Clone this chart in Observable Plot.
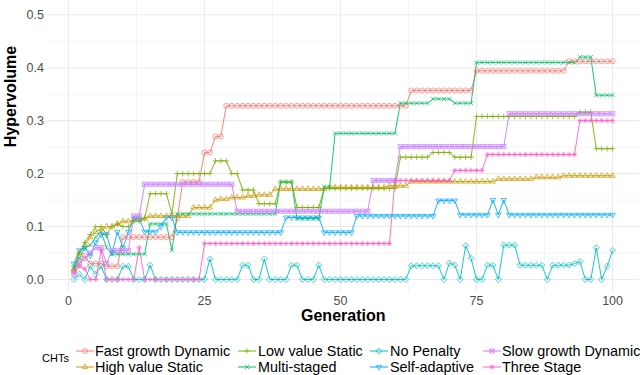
<!DOCTYPE html>
<html><head><meta charset="utf-8">
<script src="https://cdn.jsdelivr.net/npm/d3@7"></script>
<script src="https://cdn.jsdelivr.net/npm/@observablehq/plot@0.6"></script>
<style>
body{margin:0;background:#fff;font-family:"Liberation Sans",Arial,sans-serif;}
#wrap{position:relative;width:640px;height:375px;overflow:hidden;}
.lg{position:absolute;white-space:nowrap;line-height:1;transform:translateY(-50%);color:#000;}
</style></head><body><div id="wrap"><div id="chart"></div></div>
<script>
const generations = d3.range(1, 101);
const seriesNames = ["Fast growth Dynamic","High value Static","Low value Static","Multi-staged","No Penalty","Self-adaptive","Slow growth Dynamic","Three Stage"];
const seriesColors = ["#F8766D","#CD9600","#7CAE00","#00BE67","#00BFC4","#00A9FF","#C77CFF","#FF61CC"];
const xTicks = [0,25,50,75,100];
const xMinor = [12.5,37.5,62.5,87.5];
const yTicks = [0,0.1,0.2,0.3,0.4,0.5];
const yMinor = [0.05,0.15,0.25,0.35,0.45];

const fastGrowthDynamic = [
0.015,0.035,0.045,0.030,0.030,0.030,0.025,0.025,0.025,0.080,
0.080,0.080,0.080,0.080,0.080,0.080,0.080,0.080,0.080,0.115,
0.184,0.184,0.184,0.184,0.240,0.240,0.270,0.270,0.328,0.328,
0.328,0.328,0.328,0.328,0.328,0.328,0.328,0.328,0.328,0.328,
0.328,0.328,0.328,0.328,0.328,0.328,0.328,0.328,0.328,0.328,
0.328,0.328,0.328,0.328,0.328,0.328,0.328,0.328,0.328,0.328,
0.328,0.328,0.357,0.357,0.357,0.357,0.357,0.357,0.357,0.357,
0.357,0.357,0.357,0.357,0.394,0.394,0.394,0.394,0.394,0.394,
0.394,0.394,0.394,0.394,0.394,0.394,0.394,0.394,0.394,0.394,
0.394,0.412,0.412,0.412,0.412,0.412,0.412,0.412,0.412,0.412];
const highValueStatic = [
0.020,0.050,0.065,0.080,0.090,0.095,0.100,0.100,0.105,0.110,
0.110,0.112,0.115,0.115,0.120,0.120,0.120,0.120,0.120,0.120,
0.120,0.120,0.136,0.136,0.136,0.136,0.150,0.152,0.152,0.155,
0.155,0.155,0.158,0.158,0.160,0.160,0.160,0.171,0.171,0.171,
0.171,0.171,0.171,0.171,0.171,0.171,0.171,0.174,0.174,0.174,
0.174,0.174,0.174,0.174,0.174,0.174,0.174,0.174,0.177,0.177,
0.177,0.177,0.185,0.185,0.185,0.185,0.185,0.185,0.185,0.185,
0.185,0.185,0.185,0.185,0.185,0.185,0.185,0.185,0.190,0.190,
0.190,0.190,0.190,0.190,0.190,0.193,0.193,0.193,0.193,0.193,
0.196,0.196,0.196,0.196,0.196,0.196,0.196,0.196,0.196,0.196];
const lowValueStatic = [
0.025,0.050,0.070,0.085,0.100,0.100,0.085,0.100,0.105,0.100,
0.100,0.110,0.110,0.115,0.162,0.162,0.162,0.162,0.124,0.200,
0.200,0.200,0.200,0.200,0.200,0.200,0.224,0.224,0.224,0.200,
0.200,0.169,0.169,0.169,0.143,0.143,0.143,0.143,0.184,0.184,
0.184,0.136,0.136,0.136,0.136,0.136,0.172,0.172,0.172,0.172,
0.172,0.172,0.172,0.172,0.172,0.172,0.172,0.172,0.172,0.172,
0.231,0.231,0.231,0.231,0.231,0.231,0.240,0.240,0.240,0.240,
0.231,0.231,0.231,0.231,0.308,0.308,0.308,0.308,0.308,0.308,
0.308,0.308,0.308,0.308,0.308,0.308,0.308,0.308,0.308,0.308,
0.308,0.308,0.308,0.316,0.316,0.316,0.247,0.247,0.247,0.247];
const multiStaged = [
0.020,0.040,0.060,0.065,0.080,0.090,0.060,0.048,0.048,0.048,
0.048,0.048,0.048,0.048,0.105,0.105,0.105,0.105,0.055,0.124,
0.124,0.124,0.124,0.124,0.124,0.124,0.124,0.124,0.124,0.124,
0.124,0.124,0.124,0.124,0.124,0.124,0.124,0.124,0.184,0.184,
0.184,0.115,0.115,0.115,0.115,0.115,0.175,0.175,0.276,0.276,
0.276,0.276,0.276,0.276,0.276,0.276,0.276,0.276,0.276,0.276,
0.333,0.333,0.333,0.333,0.333,0.333,0.341,0.341,0.341,0.341,
0.333,0.333,0.333,0.333,0.410,0.410,0.410,0.410,0.410,0.410,
0.410,0.410,0.410,0.410,0.410,0.410,0.410,0.410,0.410,0.410,
0.410,0.410,0.410,0.420,0.420,0.420,0.348,0.348,0.348,0.348];
const noPenalty = [
0,0.010,0,0.025,0.010,0.025,0,0,0,0.025,
0.025,0,0,0,0.027,0,0,0,0,0,
0,0,0,0,0,0.039,0,0,0,0,
0,0.027,0.027,0,0,0.039,0,0,0,0,
0.027,0.027,0,0,0,0.027,0,0,0,0,
0,0,0,0,0,0,0,0,0,0,
0,0,0.026,0.026,0.026,0.026,0.026,0.026,0,0.031,
0.027,0,0.064,0.040,0,0,0.027,0.027,0,0.065,
0.065,0.065,0.027,0.027,0.027,0.027,0.027,0,0.027,0.027,
0.027,0.027,0.030,0.034,0,0,0.060,0,0.025,0.055];
const selfAdaptive = [
0.030,0.055,0.060,0.045,0.070,0.085,0.085,0.050,0.090,0.060,
0.090,0.115,0.115,0.090,0.090,0.090,0.100,0.117,0.117,0.089,
0.089,0.089,0.089,0.089,0.089,0.089,0.089,0.089,0.089,0.089,
0.089,0.089,0.089,0.089,0.089,0.089,0.089,0.089,0.089,0.117,
0.117,0.117,0.117,0.117,0.117,0.117,0.089,0.089,0.089,0.089,
0.089,0.089,0.120,0.120,0.120,0.120,0.120,0.120,0.120,0.120,
0.120,0.120,0.120,0.120,0.120,0.120,0.120,0.149,0.149,0.149,
0.149,0.122,0.122,0.122,0.122,0.122,0.122,0.150,0.122,0.150,
0.122,0.122,0.122,0.122,0.122,0.122,0.122,0.122,0.122,0.122,
0.122,0.122,0.122,0.122,0.122,0.122,0.122,0.122,0.122,0.122];
const slowGrowthDynamic = [
0.010,0.030,0.040,0.050,0.060,0.060,0.030,0.055,0.055,0.055,
0.055,0.120,0.120,0.180,0.180,0.180,0.180,0.180,0.180,0.180,
0.180,0.180,0.180,0.180,0.180,0.180,0.180,0.180,0.180,0.180,
0.129,0.129,0.129,0.129,0.129,0.129,0.129,0.129,0.129,0.129,
0.129,0.129,0.129,0.129,0.129,0.129,0.129,0.129,0.129,0.129,
0.129,0.129,0.129,0.129,0.129,0.187,0.187,0.187,0.187,0.187,
0.251,0.251,0.251,0.251,0.251,0.251,0.251,0.251,0.251,0.251,
0.251,0.251,0.251,0.251,0.251,0.251,0.251,0.251,0.251,0.251,
0.313,0.313,0.313,0.313,0.313,0.313,0.313,0.313,0.313,0.313,
0.313,0.313,0.313,0.313,0.313,0.313,0.313,0.313,0.313,0.313];
const threeStage = [
0.015,0.025,0.020,0,0,0.055,0,0,0,0,
0,0,0.060,0,0,0,0,0,0,0,
0,0,0,0,0.068,0.068,0.068,0.068,0.068,0.068,
0.068,0.068,0.068,0.068,0.068,0.068,0.068,0.068,0.068,0.068,
0.068,0.068,0.068,0.068,0.068,0.068,0.068,0.068,0.068,0.068,
0.068,0.068,0.068,0.068,0.068,0.068,0.068,0.068,0.068,0.187,
0.187,0.187,0.187,0.187,0.187,0.187,0.187,0.187,0.187,0.187,
0.206,0.206,0.206,0.206,0.206,0.206,0.236,0.236,0.236,0.236,
0.236,0.236,0.236,0.236,0.236,0.236,0.236,0.236,0.236,0.236,
0.236,0.236,0.236,0.300,0.300,0.300,0.300,0.300,0.300,0.300];

const seriesValues = [fastGrowthDynamic,highValueStatic,lowValueStatic,multiStaged,noPenalty,selfAdaptive,slowGrowthDynamic,threeStage];

// open ggplot-like symbols
const rad = s => Math.sqrt(s/Math.PI);
const symCircle = {draw(c,s){const r=rad(s); c.moveTo(r,0); c.arc(0,0,r,0,2*Math.PI);}};
const symTriUp = {draw(c,s){const r=rad(s)*1.25; c.moveTo(0,-r); c.lineTo(r*0.866,r*0.5); c.lineTo(-r*0.866,r*0.5); c.closePath();}};
const symPlus = {draw(c,s){const r=rad(s)*1.15; c.moveTo(-r,0); c.lineTo(r,0); c.moveTo(0,-r); c.lineTo(0,r);}};
const symTimes = {draw(c,s){const r=rad(s)*0.85; c.moveTo(-r,-r); c.lineTo(r,r); c.moveTo(-r,r); c.lineTo(r,-r);}};
const symDiamond = {draw(c,s){const r=rad(s)*1.2; c.moveTo(0,-r); c.lineTo(r,0); c.lineTo(0,r); c.lineTo(-r,0); c.closePath();}};
const symTriDown = {draw(c,s){const r=rad(s)*1.25; c.moveTo(0,r); c.lineTo(-r*0.866,-r*0.5); c.lineTo(r*0.866,-r*0.5); c.closePath();}};
const symSquareX = {draw(c,s){const r=rad(s)*0.85; c.rect(-r,-r,2*r,2*r); c.moveTo(-r,-r); c.lineTo(r,r); c.moveTo(-r,r); c.lineTo(r,-r);}};
const symAster = {draw(c,s){const r=rad(s)*1.05, d=r*0.707; c.moveTo(-r,0); c.lineTo(r,0); c.moveTo(0,-r); c.lineTo(0,r); c.moveTo(-d,-d); c.lineTo(d,d); c.moveTo(-d,d); c.lineTo(d,-d);}};
const seriesSymbols = [symCircle,symTriUp,symPlus,symTimes,symDiamond,symTriDown,symSquareX,symAster];

const R = 2.5;
const lineMarks = [], dotMarks = [];
seriesValues.forEach((vals,k) => {
  const data = vals.map((v,i) => ({g: generations[i], v}));
  lineMarks.push(Plot.line(data,{x:"g",y:"v",stroke:seriesColors[k],strokeWidth:0.9}));
  dotMarks.push(Plot.dot(data,{x:"g",y:"v",stroke:seriesColors[k],fill:"none",strokeWidth:0.7,r:R,symbol:seriesSymbols[k]}));
});

const FONT = '"Liberation Sans", Arial, Helvetica, sans-serif';
const W = 640, H = 335;
const plot = Plot.plot({
  width: W, height: H,
  marginLeft: 46.5, marginRight: 1, marginTop: 1, marginBottom: H - 292.25,
  x: {domain: [-3.95, 104.95]},
  y: {domain: [-0.025, 0.525]},
  style: {fontFamily: FONT, background: "white", overflow: "visible"},
  marks: [
    Plot.ruleY(yMinor, {stroke:"#EBEBEB", strokeWidth:0.55}),
    Plot.ruleX(xMinor, {stroke:"#EBEBEB", strokeWidth:0.55}),
    Plot.ruleY(yTicks, {stroke:"#EBEBEB", strokeWidth:1.1}),
    Plot.ruleX(xTicks, {stroke:"#EBEBEB", strokeWidth:1.1}),
    ...lineMarks,
    ...dotMarks,
    Plot.axisX({ticks:xTicks, tickSize:0, tickPadding:3, label:null, fontSize:12.5, color:"#4D4D4D"}),
    Plot.axisY({ticks:yTicks, tickSize:0, tickPadding:3, label:null, fontSize:12.5, color:"#4D4D4D", tickFormat:d3.format(".1f")}),
    Plot.text(["Generation"], {frameAnchor:"bottom", dy:28, fontWeight:"bold", fontSize:16, fill:"#000"}),
    Plot.text(["Hypervolume"], {frameAnchor:"left", dx:-36.5, rotate:-90, fontWeight:"bold", fontSize:16, fill:"#000"})
  ]
});
const wrap = document.getElementById("wrap");
document.getElementById("chart").appendChild(plot);

// legend
function addDiv(text, left, cy, size){
  const d = document.createElement("div");
  d.className = "lg"; d.textContent = text;
  d.style.left = left+"px"; d.style.top = cy+"px"; d.style.fontSize = size+"px";
  wrap.appendChild(d);
}
addDiv("CHTs", 42, 358, 11);
const colKey = [75, 237, 369, 482];
const colText = [95, 258, 390, 502];
const rowY = [351, 367];
seriesNames.forEach((name,k) => {
  const col = Math.floor(k/2), row = k%2;
  const svg = d3.create("svg").attr("width",20).attr("height",14)
    .style("position","absolute").style("left",colKey[col]+"px").style("top",(rowY[row]-7)+"px");
  svg.append("line").attr("x1",1).attr("x2",19).attr("y1",7).attr("y2",7).attr("stroke",seriesColors[k]).attr("stroke-width",1);
  svg.append("path").attr("transform","translate(10,7)").attr("d", d3.symbol(seriesSymbols[k], Math.PI*R*R)())
    .attr("fill","none").attr("stroke",seriesColors[k]).attr("stroke-width",0.7);
  wrap.appendChild(svg.node());
  addDiv(name, colText[col], rowY[row], 14.4);
});
</script></body></html>
